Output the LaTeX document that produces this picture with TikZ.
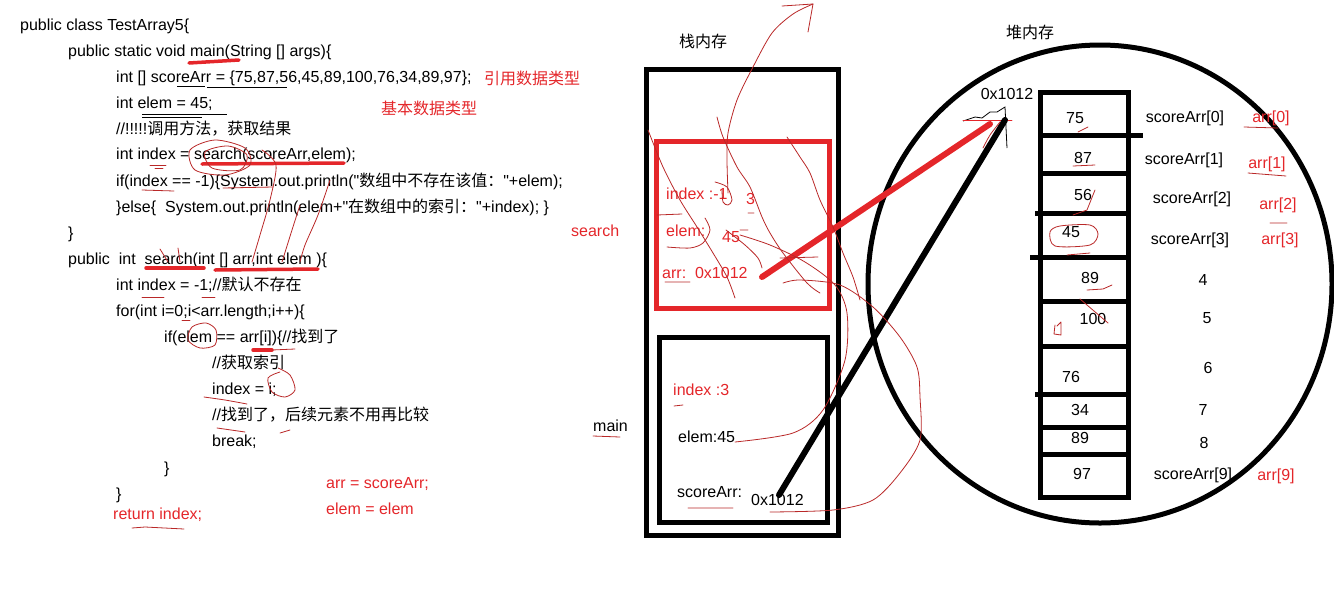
\documentclass[tikz,border=0pt]{standalone}
\usepackage{tikz}
\usepackage{fontspec}
\setmainfont{Liberation Sans}[Ligatures=TeXOff]
\newfontfamily\cjk{Noto Sans CJK SC}
\newcommand{\dquote}{\symbol{34}}
\definecolor{paintred}{RGB}{228,38,42}
\definecolor{inkred}{RGB}{185,40,40}
\tikzset{
  % text
	cstcode/.style   ={anchor=base west,inner sep=0pt,font=\fontsize{16}{19}\selectfont},
	cstnote/.style   ={cstcode,text=paintred},
	cstcell/.style   ={anchor=base,inner sep=0pt,font=\fontsize{16}{19}\selectfont},
	cstcellr/.style  ={cstcell,text=paintred},
  % frame
	cstframe/.style  ={line width=5pt},
	cstframer/.style ={line width=5pt,draw=paintred},
  % link
	cstlink/.style   ={line width=6pt,line cap=round},
  % hand marks
	cstmark/.style   ={paintred,line width=3.5pt,line cap=round},
	cstscrawl/.style ={inkred,line width=0.8pt,line cap=round,line join=round},
	cstpencil/.style ={black,line width=0.8pt}
}

\begin{document}
\begin{tikzpicture}[x=1pt,y=-1pt]
	\useasboundingbox (0,0) rectangle (1334,611);
	% code
	\node[cstcode] (l1)  at (20,30)   {public class TestArray5\{};
	\node[cstcode] (l2)  at (68,56)   {public static void main(String [] args)\{};
	\node[cstcode] (l3)  at (116,82)  {int [] scoreArr = \{75,87,56,45,89,100,76,34,89,97\};};
	\node[cstcode] (l4)  at (116,108) {int elem = 45;};
	\node[cstcode] (l5)  at (116,134) {//!!!!!{\cjk 调用方法，获取结果}};
	\node[cstcode] (l6)  at (116,159) {int index = search(scoreArr,elem);};
	\node[cstcode] (l7)  at (116,186) {if(index == -1)\{System.out.println(\dquote{\cjk 数组中不存在该值：}\dquote+elem);};
	\node[cstcode] (l8)  at (116,212) {\}else\{\ \ System.out.println(elem+\dquote{\cjk 在数组中的索引：}\dquote+index); \}};
	\node[cstcode] (l9)  at (68,238)  {\}};
	\node[cstcode] (l10) at (68,264)  {public\ \ int\ \ search(int [] arr,int elem )\{};
	\node[cstcode] (l11) at (116,290) {int index = -1;//{\cjk 默认不存在}};
	\node[cstcode] (l12) at (116,316) {for(int i=0;i<arr.length;i++)\{};
	\node[cstcode] (l13) at (164,342) {if(elem == arr[i])\{//{\cjk 找到了}};
	\node[cstcode] (l14) at (212,368) {//{\cjk 获取索引}};
	\node[cstcode] (l15) at (212,394) {index = i;};
	\node[cstcode] (l16) at (212,420) {//{\cjk 找到了，后续元素不用再比较}};
	\node[cstcode] (l17) at (212,446) {break;};
	\node[cstcode] (l18) at (164,473) {\}};
	\node[cstcode] (l19) at (116,499) {\}};
	% notes
	\node[cstnote] (reftype)  at (484,84)  {\cjk 引用数据类型};
	\node[cstnote] (basetype) at (381,114) {\cjk 基本数据类型};
	\node[cstnote] (searchlb) at (571,236) {search};
	\node[cstnote] (retidx)   at (113,519) {return index;};
	\node[cstnote] (argarr)   at (326,488) {arr = scoreArr;};
	\node[cstnote] (argelem)  at (326,514) {elem = elem};
	\node[cstcode] (mainlb)   at (593,431) {main};
	% stack
	\node[cstcell] (stacktitle) at (703,47) {\cjk 栈内存};
	\draw[cstframe]  (646,69) rectangle (838,535);
	\draw[cstframer] (656,141) rectangle (829,308);
	\draw[cstframe]  (659,337) rectangle (827,522);
	\node[cstnote] (sidx)   at (666,199) {index :-1};
	\node[cstnote] (sidx3)  at (746,204) {3};
	\node[cstnote] (selem)  at (666,236) {elem:};
	\node[cstnote] (s45)    at (722,242) {45};
	\node[cstnote] (sarr)   at (662,278) {arr:\ \ 0x1012};
	\node[cstnote] (midx)   at (673,395) {index :3};
	\node[cstcode] (melem)  at (678,442) {elem:45};
	\node[cstcode] (mscore) at (677,497) {scoreArr:};
	\node[cstcode] (maddr)  at (751,505) {0x1012};
	% heap
	\node[cstcell] (heaptitle) at (1030,38) {\cjk 堆内存};
	\draw[cstframe] (1100,284) ellipse [x radius=232,y radius=239];
	\draw[cstframe] (1040,92) rectangle (1128,497);
	\foreach \ry/\xl/\xr in {135/1040/1143,173/1040/1128,213/1035/1128,257/1030/1128,301/1040/1128,
		346/1040/1128,394/1035/1128,427/1040/1128,454/1040/1128}
		\draw[cstframe] (\xl,\ry) -- (\xr,\ry);
	\foreach \v/\cx/\cy [count=\i] in {75/1075/117,87/1083/157,56/1083/194,45/1071/231,89/1090/277,
		100/1093/318,76/1071/376,34/1080/409,89/1080/437,97/1082/473}
		\node[cstcell] (val\i) at (\cx,\cy+6) {\v};
	\foreach \t/\cx/\cy [count=\i] in {{scoreArr[0]}/1185/116,{scoreArr[1]}/1184/158,{scoreArr[2]}/1192/197,
		{scoreArr[3]}/1190/238,4/1203/279,5/1207/317,6/1208/367,7/1203/409,8/1204/442,{scoreArr[9]}/1193/473}
		\node[cstcell] (idx\i) at (\cx,\cy+6) {\t};
	\foreach \t/\cx/\cy [count=\i] in {{arr[0]}/1271/116,{arr[1]}/1267/162,{arr[2]}/1278/203,
		{arr[3]}/1280/238,{arr[9]}/1276/474}
		\node[cstcellr] (aidx\i) at (\cx,\cy+6) {\t};
	\node[cstcell] (heapaddr) at (1007,99) {0x1012};
	\coordinate (addr)  at (1005,120);
	\coordinate (addrr) at (990,124);
	\coordinate (arrref)   at (762,277);
	\coordinate (scoreref) at (779,495);
	\draw[cstpencil] (963,121) -- (975,117) -- (982,118) -- (990,112) -- (997,112) -- (1005,107) -- (1007,148);
	\draw[cstscrawl,paintred] (963,120) -- (1012,120);
	% references
	\draw[cstlink,paintred] (arrref) -- (addrr);
	\draw[cstlink] (scoreref) -- (addr);
	% marks on code
	\draw[cstmark] (189,63) -- (239,60);
	\draw[cstmark] (202,164) -- (344,163);
	\draw[cstmark] (146,268) -- (204,268);
	\draw[cstmark] (215,270) -- (318,269);
	\draw[cstmark] (253,350) -- (272,350);
	\draw[cstpencil] (177,86) -- (205,86) (207,87) -- (287,87);
	\draw[cstpencil] (142,114) -- (227,114) (142,117) -- (202,117);
	\draw[cstscrawl] plot[smooth cycle] coordinates {(190,150) (215,140) (245,148) (250,165) (225,175) (195,170)};
	\draw[cstscrawl] plot[smooth cycle] coordinates {(205,152) (228,146) (247,155) (240,170) (212,168)};
	\draw[cstscrawl] plot[smooth] coordinates {(262,150) (276,165) (270,200) (260,235) (252,262)};
	\draw[cstscrawl] plot[smooth] coordinates {(330,180) (318,215) (305,245) (300,262)};
	\draw[cstscrawl] plot[smooth] coordinates {(300,205) (292,230) (282,262)};
	\draw[cstscrawl] (150,165) -- (166,165) (155,168) -- (163,168);
	\draw[cstscrawl] (142,190) -- (174,191) (223,188) -- (273,187);
	\draw[cstscrawl] (160,249) -- (168,262) (178,248) -- (180,262);
	\draw[cstscrawl] (142,297) -- (164,297) (202,297) -- (215,297) (182,320) -- (190,320);
	\draw[cstscrawl] plot[smooth cycle] coordinates {(192,327) (206,323) (216,330) (215,345) (200,348) (188,340)};
	\draw[cstscrawl] (272,350) -- (295,349);
	\draw[cstscrawl] plot[smooth] coordinates {(280,372) (268,378) (272,392) (285,397) (295,390) (290,375) (278,368)};
	\draw[cstscrawl] plot[smooth] coordinates {(204,397) (225,400) (247,404)};
	\draw[cstscrawl] (217,428) -- (245,432) (280,433) -- (290,430);
	\draw[cstscrawl] (132,528) -- (145,527) -- (184,529);
	\draw[cstscrawl] (593,436) -- (620,437);
	% marks on stack
	\draw[cstscrawl] (782,6) -- (813,4) -- (808,32);
	\draw[cstscrawl] plot[smooth] coordinates {(813,4) (793,14) (772,33) (753,67) (737,100) (728,133) (727,160) (728,193)};
	\draw[cstscrawl] plot[smooth] coordinates {(715,182) (727,187) (732,200) (728,205) (723,202) (722,190)};
	\draw[cstscrawl] plot[smooth] coordinates {(717,117) (723,137) (737,167) (750,187) (762,217) (770,233) (783,253) (807,283) (820,293)};
	\draw[cstscrawl] plot[smooth] coordinates {(787,137) (800,157) (810,173) (820,200) (833,227) (843,253) (853,277) (860,300)};
	\draw[cstscrawl] plot[smooth] coordinates {(648,130) (663,167) (680,200) (697,227) (713,253) (727,277) (735,298)};
	\draw[cstscrawl] plot[smooth] coordinates {(705,218) (710,230) (703,243) (690,248) (667,247)};
	\draw[cstscrawl] plot[smooth] coordinates {(726,230) (745,245) (758,258) (762,268)};
	\draw[cstscrawl] plot[smooth] coordinates {(735,442) (793,433) (823,410) (845,360) (847,313) (835,285) (805,262) (770,245) (740,235)};
	\draw[cstscrawl] plot[smooth] coordinates {(770,512) (833,510) (873,500) (900,473) (920,440) (920,397) (917,367) (900,337) (873,307) (840,285) (800,280) (783,283)};
	\draw[cstscrawl] (780,258) -- (818,257) (657,215) -- (682,214) (748,213) -- (754,213) (740,230) -- (748,230);
	\draw[cstscrawl] (665,282) -- (690,282) (674,406) -- (683,405) (688,508) -- (733,508);
	% marks on heap
	\draw[cstscrawl] (1078,132) -- (1088,127);
	\draw[cstscrawl] (1073,166) -- (1095,165);
	\draw[cstscrawl] (1073,215) -- (1087,210) -- (1095,190);
	\draw[cstscrawl] plot[smooth cycle] coordinates {(1050,232) (1060,226) (1090,225) (1098,234) (1090,245) (1055,246)};
	\draw[cstscrawl] (1067,255) -- (1090,253);
	\draw[cstscrawl] (1087,290) -- (1103,289) -- (1112,285);
	\draw[cstscrawl] (1080,299) -- (1108,323);
	\draw[cstscrawl] (1057,326) -- (1061,322) -- (1061,335) -- (1054,334) -- (1055,325);
	\draw[cstscrawl] plot[smooth] coordinates {(983,148) (990,135) (1000,122)};
	\draw[cstscrawl] (1244,127) -- (1278,128) (1248,173) -- (1286,176) (1270,223) -- (1287,223);
\end{tikzpicture}
\end{document}
